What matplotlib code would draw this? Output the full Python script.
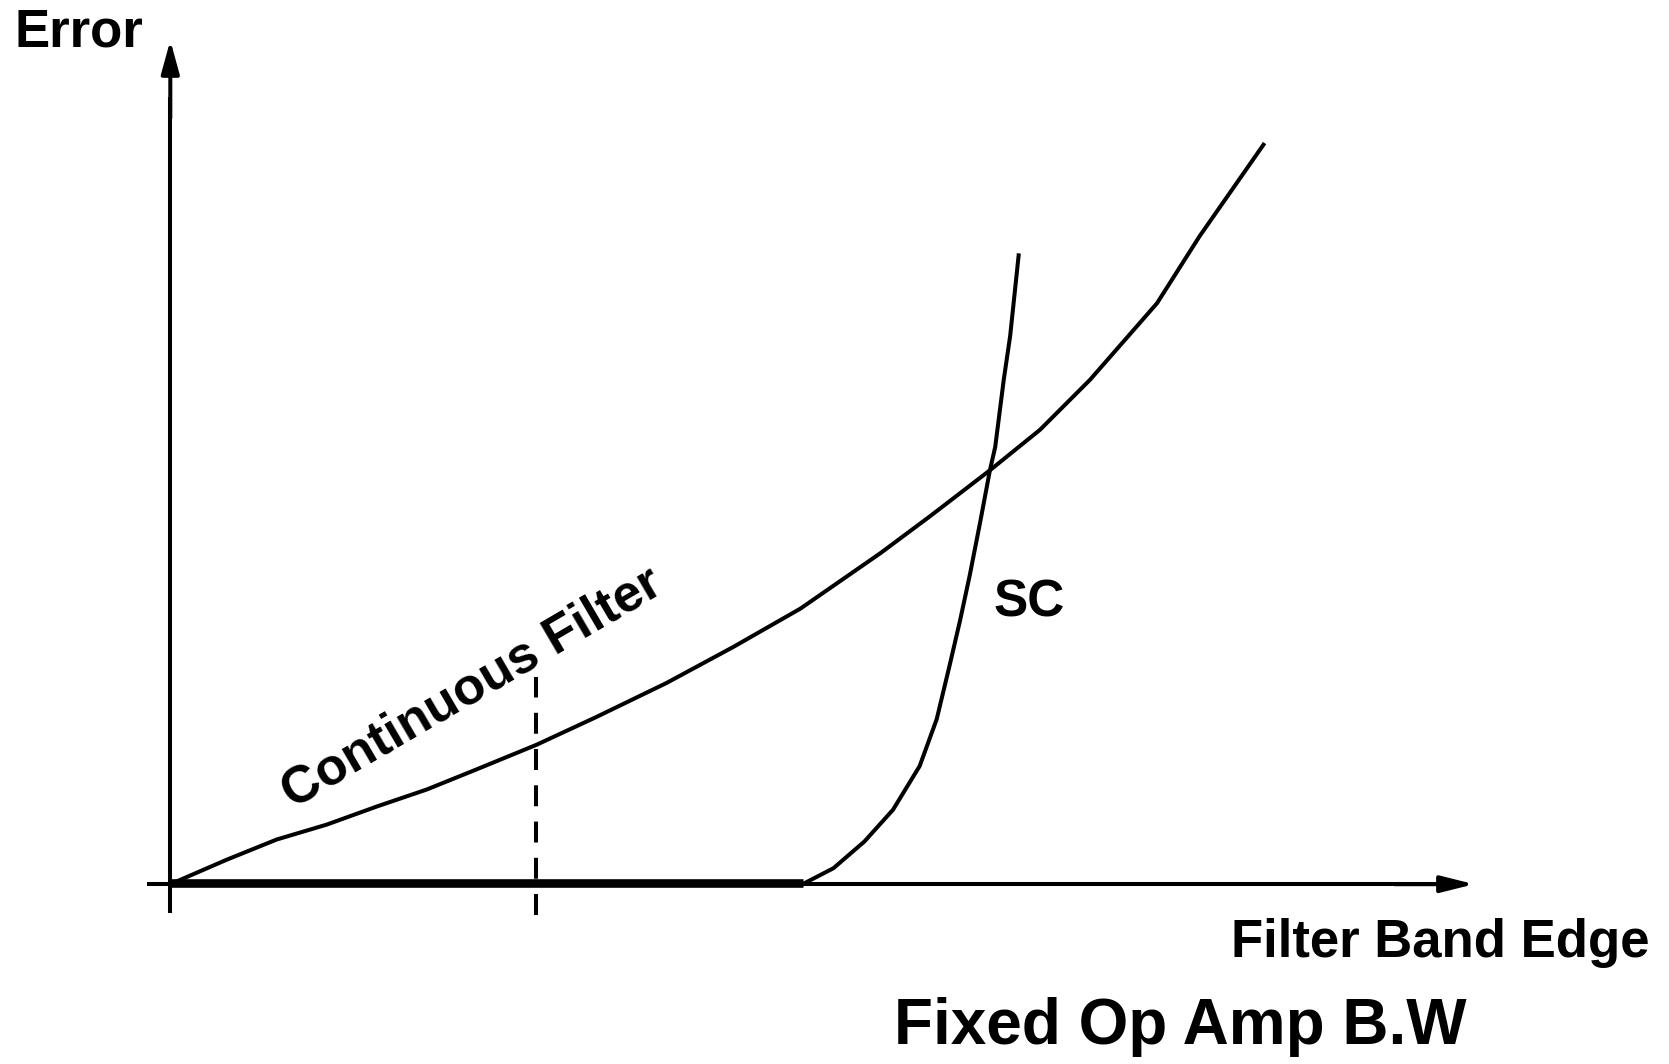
import matplotlib.pyplot as plt

plt.rcParams['font.family'] = ['Liberation Sans', 'DejaVu Sans']

# Continuous filter error vs band edge (sketch units, origin at axes crossing)
cont_x = [0, 53, 100, 147, 194, 241, 288, 344, 400, 466, 529, 592, 667, 714,
          770, 817, 864, 927, 967, 1027]
cont_y = [0, 23, 42, 56, 73, 89, 108, 131, 157, 189, 223, 259, 311, 346,
          389, 427, 474, 546, 609, 695]

# Switched-capacitor error: zero until the knee, then rises steeply
sc_x = [0, 594, 623, 652, 679, 704, 720, 732, 742, 751, 761, 770, 775, 783, 789, 797]
sc_y = [0, 0, 15, 40, 70, 111, 155, 205, 248, 290, 341, 389, 411, 474, 515, 591]

marker_x = 344          # dashed marker position
marker_y = (-29, 195)

fig = plt.figure(figsize=(16.69, 10.64), dpi=100)
ax = fig.add_axes([0, 0, 1, 1])
ax.set_xlim(-160, 1408)
ax.set_ylim(-169, 831)
ax.axis('off')

k = 'black'
lw = 2.9
# axes with arrows
ax.plot([-22, 1200], [0, 0], color=k, lw=lw, solid_capstyle='butt')
ax.plot([0, 0], [-27, 740], color=k, lw=lw, solid_capstyle='butt')
ax.annotate('', xy=(1225, 0), xytext=(1150, 0),
            arrowprops=dict(arrowstyle='-|>,head_length=2.0,head_width=0.5',
                            lw=lw, color=k, shrinkA=0, shrinkB=0))
ax.annotate('', xy=(0, 793), xytext=(0, 720),
            arrowprops=dict(arrowstyle='-|>,head_length=2.0,head_width=0.55',
                            lw=lw, color=k, shrinkA=0, shrinkB=0))

# curves
ax.plot(sc_x[:2], [1.5, 1.5], color=k, lw=6.2, solid_capstyle='butt')
ax.plot(sc_x[1:], sc_y[1:], color=k, lw=lw, solid_joinstyle='round')
ax.plot(cont_x, cont_y, color=k, lw=lw, solid_joinstyle='round')
ax.plot([marker_x, marker_x], marker_y, color=k, lw=lw,
        linestyle=(0, (5.2, 3.8)), dash_capstyle='butt')

# labels
ax.text(-146, 800, 'Error', fontsize=38, fontweight='bold', ha='left', va='center')
ax.text(1390, -55, 'Filter Band Edge', fontsize=38, fontweight='bold',
        ha='right', va='center')
ax.text(949, -134, 'Fixed Op Amp B.W', fontsize=46, fontweight='bold',
        ha='center', va='center')
ax.text(807, 264, 'SC', fontsize=37, fontweight='bold', ha='center', va='center')
ax.text(284, 184, 'Continuous Filter', fontsize=37.5, fontweight='bold',
        ha='center', va='center', rotation=30.3, rotation_mode='anchor')

fig.savefig('out.png', dpi=100)
